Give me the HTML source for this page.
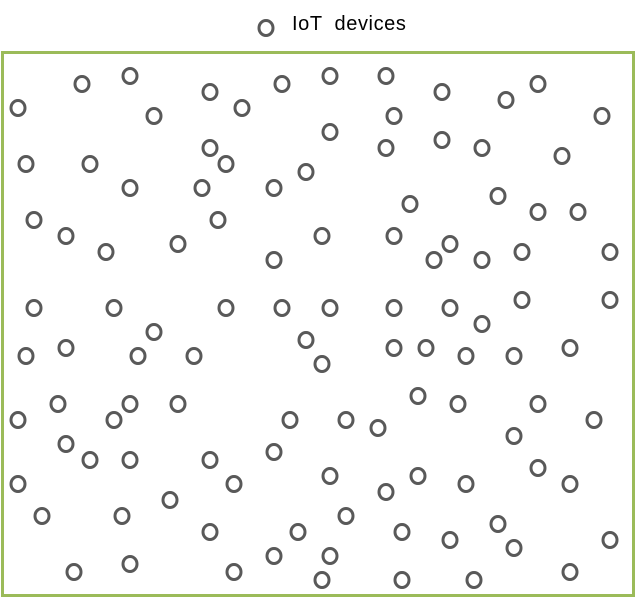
<!DOCTYPE html>
<html><head><meta charset="utf-8"><style>html,body{margin:0;padding:0;background:#fff}svg{display:block}</style></head>
<body>
<svg width="637" height="599" viewBox="0 0 637 599" xmlns="http://www.w3.org/2000/svg">
<rect x="2.5" y="52.5" width="631" height="543" fill="none" stroke="#9bbb59" stroke-width="3"/>
<text x="292" y="30" font-family="Liberation Sans, sans-serif" font-size="20" fill="#000" letter-spacing="0.6" word-spacing="6">IoT devices</text>
<g fill="none" stroke="#595959" stroke-width="3">
<ellipse cx="266" cy="28" rx="7" ry="7.5"/>
<g id="c">
<ellipse cx="82" cy="84" rx="7" ry="7.5"/><ellipse cx="130" cy="76" rx="7" ry="7.5"/><ellipse cx="18" cy="108" rx="7" ry="7.5"/><ellipse cx="154" cy="116" rx="7" ry="7.5"/><ellipse cx="210" cy="92" rx="7" ry="7.5"/><ellipse cx="242" cy="108" rx="7" ry="7.5"/><ellipse cx="282" cy="84" rx="7" ry="7.5"/><ellipse cx="330" cy="76" rx="7" ry="7.5"/><ellipse cx="386" cy="76" rx="7" ry="7.5"/><ellipse cx="394" cy="116" rx="7" ry="7.5"/><ellipse cx="442" cy="92" rx="7" ry="7.5"/><ellipse cx="506" cy="100" rx="7" ry="7.5"/><ellipse cx="538" cy="84" rx="7" ry="7.5"/><ellipse cx="602" cy="116" rx="7" ry="7.5"/>
<ellipse cx="26" cy="164" rx="7" ry="7.5"/><ellipse cx="90" cy="164" rx="7" ry="7.5"/><ellipse cx="130" cy="188" rx="7" ry="7.5"/><ellipse cx="210" cy="148" rx="7" ry="7.5"/><ellipse cx="226" cy="164" rx="7" ry="7.5"/><ellipse cx="202" cy="188" rx="7" ry="7.5"/><ellipse cx="274" cy="188" rx="7" ry="7.5"/><ellipse cx="306" cy="172" rx="7" ry="7.5"/><ellipse cx="330" cy="132" rx="7" ry="7.5"/><ellipse cx="386" cy="148" rx="7" ry="7.5"/><ellipse cx="442" cy="140" rx="7" ry="7.5"/><ellipse cx="482" cy="148" rx="7" ry="7.5"/><ellipse cx="562" cy="156" rx="7" ry="7.5"/>
<ellipse cx="34" cy="220" rx="7" ry="7.5"/><ellipse cx="66" cy="236" rx="7" ry="7.5"/><ellipse cx="106" cy="252" rx="7" ry="7.5"/><ellipse cx="178" cy="244" rx="7" ry="7.5"/><ellipse cx="218" cy="220" rx="7" ry="7.5"/><ellipse cx="274" cy="260" rx="7" ry="7.5"/><ellipse cx="322" cy="236" rx="7" ry="7.5"/><ellipse cx="410" cy="204" rx="7" ry="7.5"/><ellipse cx="394" cy="236" rx="7" ry="7.5"/><ellipse cx="498" cy="196" rx="7" ry="7.5"/><ellipse cx="538" cy="212" rx="7" ry="7.5"/><ellipse cx="578" cy="212" rx="7" ry="7.5"/><ellipse cx="450" cy="244" rx="7" ry="7.5"/><ellipse cx="434" cy="260" rx="7" ry="7.5"/><ellipse cx="482" cy="260" rx="7" ry="7.5"/><ellipse cx="522" cy="252" rx="7" ry="7.5"/><ellipse cx="610" cy="252" rx="7" ry="7.5"/>
<ellipse cx="34" cy="308" rx="7" ry="7.5"/><ellipse cx="114" cy="308" rx="7" ry="7.5"/><ellipse cx="154" cy="332" rx="7" ry="7.5"/><ellipse cx="226" cy="308" rx="7" ry="7.5"/><ellipse cx="282" cy="308" rx="7" ry="7.5"/><ellipse cx="330" cy="308" rx="7" ry="7.5"/><ellipse cx="306" cy="340" rx="7" ry="7.5"/><ellipse cx="394" cy="308" rx="7" ry="7.5"/><ellipse cx="450" cy="308" rx="7" ry="7.5"/><ellipse cx="482" cy="324" rx="7" ry="7.5"/><ellipse cx="522" cy="300" rx="7" ry="7.5"/><ellipse cx="610" cy="300" rx="7" ry="7.5"/>
<ellipse cx="26" cy="356" rx="7" ry="7.5"/><ellipse cx="66" cy="348" rx="7" ry="7.5"/><ellipse cx="138" cy="356" rx="7" ry="7.5"/><ellipse cx="194" cy="356" rx="7" ry="7.5"/><ellipse cx="322" cy="364" rx="7" ry="7.5"/><ellipse cx="394" cy="348" rx="7" ry="7.5"/><ellipse cx="426" cy="348" rx="7" ry="7.5"/><ellipse cx="466" cy="356" rx="7" ry="7.5"/><ellipse cx="514" cy="356" rx="7" ry="7.5"/><ellipse cx="570" cy="348" rx="7" ry="7.5"/>
<ellipse cx="58" cy="404" rx="7" ry="7.5"/><ellipse cx="18" cy="420" rx="7" ry="7.5"/><ellipse cx="114" cy="420" rx="7" ry="7.5"/><ellipse cx="130" cy="404" rx="7" ry="7.5"/><ellipse cx="178" cy="404" rx="7" ry="7.5"/><ellipse cx="290" cy="420" rx="7" ry="7.5"/><ellipse cx="346" cy="420" rx="7" ry="7.5"/><ellipse cx="378" cy="428" rx="7" ry="7.5"/><ellipse cx="418" cy="396" rx="7" ry="7.5"/><ellipse cx="458" cy="404" rx="7" ry="7.5"/><ellipse cx="538" cy="404" rx="7" ry="7.5"/><ellipse cx="594" cy="420" rx="7" ry="7.5"/><ellipse cx="514" cy="436" rx="7" ry="7.5"/>
<ellipse cx="66" cy="444" rx="7" ry="7.5"/><ellipse cx="90" cy="460" rx="7" ry="7.5"/><ellipse cx="130" cy="460" rx="7" ry="7.5"/><ellipse cx="210" cy="460" rx="7" ry="7.5"/><ellipse cx="274" cy="452" rx="7" ry="7.5"/><ellipse cx="234" cy="484" rx="7" ry="7.5"/><ellipse cx="330" cy="476" rx="7" ry="7.5"/><ellipse cx="418" cy="476" rx="7" ry="7.5"/><ellipse cx="386" cy="492" rx="7" ry="7.5"/><ellipse cx="466" cy="484" rx="7" ry="7.5"/><ellipse cx="538" cy="468" rx="7" ry="7.5"/><ellipse cx="570" cy="484" rx="7" ry="7.5"/>
<ellipse cx="18" cy="484" rx="7" ry="7.5"/><ellipse cx="42" cy="516" rx="7" ry="7.5"/><ellipse cx="122" cy="516" rx="7" ry="7.5"/><ellipse cx="170" cy="500" rx="7" ry="7.5"/><ellipse cx="210" cy="532" rx="7" ry="7.5"/><ellipse cx="298" cy="532" rx="7" ry="7.5"/><ellipse cx="346" cy="516" rx="7" ry="7.5"/><ellipse cx="402" cy="532" rx="7" ry="7.5"/><ellipse cx="450" cy="540" rx="7" ry="7.5"/><ellipse cx="498" cy="524" rx="7" ry="7.5"/><ellipse cx="514" cy="548" rx="7" ry="7.5"/><ellipse cx="610" cy="540" rx="7" ry="7.5"/>
<ellipse cx="74" cy="572" rx="7" ry="7.5"/><ellipse cx="130" cy="564" rx="7" ry="7.5"/><ellipse cx="234" cy="572" rx="7" ry="7.5"/><ellipse cx="274" cy="556" rx="7" ry="7.5"/><ellipse cx="330" cy="556" rx="7" ry="7.5"/><ellipse cx="322" cy="580" rx="7" ry="7.5"/><ellipse cx="402" cy="580" rx="7" ry="7.5"/><ellipse cx="474" cy="580" rx="7" ry="7.5"/><ellipse cx="570" cy="572" rx="7" ry="7.5"/>
</g>
</g>
</svg>
</body></html>
